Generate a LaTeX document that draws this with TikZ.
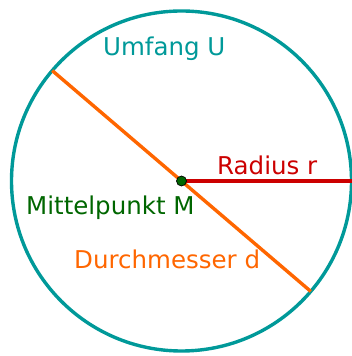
\documentclass[tikz,border=0pt]{standalone}
\usepackage{fontspec}
\setmainfont{DejaVu Sans}
\usetikzlibrary{calc}
\definecolor{tealc}{RGB}{0,153,153}
\definecolor{orangec}{RGB}{255,102,0}
\definecolor{redc}{RGB}{204,0,0}
\definecolor{greenc}{RGB}{0,102,0}
\begin{document}
\begin{tikzpicture}[x=1pt,y=1pt,
  lbl/.style={anchor=base west,inner sep=0pt,font=\fontsize{24.5}{29}\selectfont},
  thick line/.style={line width=3.4pt}]
\useasboundingbox (0,0) rectangle (352,356);
\coordinate (M) at (181.5,175);
\draw[tealc,thick line] (M) circle[radius=170];
\coordinate (A) at ($(M)+(139.5:170)$);
\coordinate (B) at ($(M)+(-40.5:170)$);
\coordinate (R) at ($(M)+(0:171)$);
\draw[orangec,thick line] (A) -- (B);
\draw[redc,thick line] (M) -- (R);
\node[circle,fill=greenc,draw=black,line width=0.7pt,minimum size=10pt,inner sep=0pt] (Mdot) at (M) {};
\node[lbl,text=tealc] (umfang) at (103,300) {Umfang U};
\node[lbl,text=redc] (radius) at (217,181) {Radius r};
\node[lbl,text=greenc] (mittel) at (26,141) {Mittelpunkt M};
\node[lbl,text=orangec] (durch) at (74,87) {Durchmesser d};
\end{tikzpicture}
\end{document}
